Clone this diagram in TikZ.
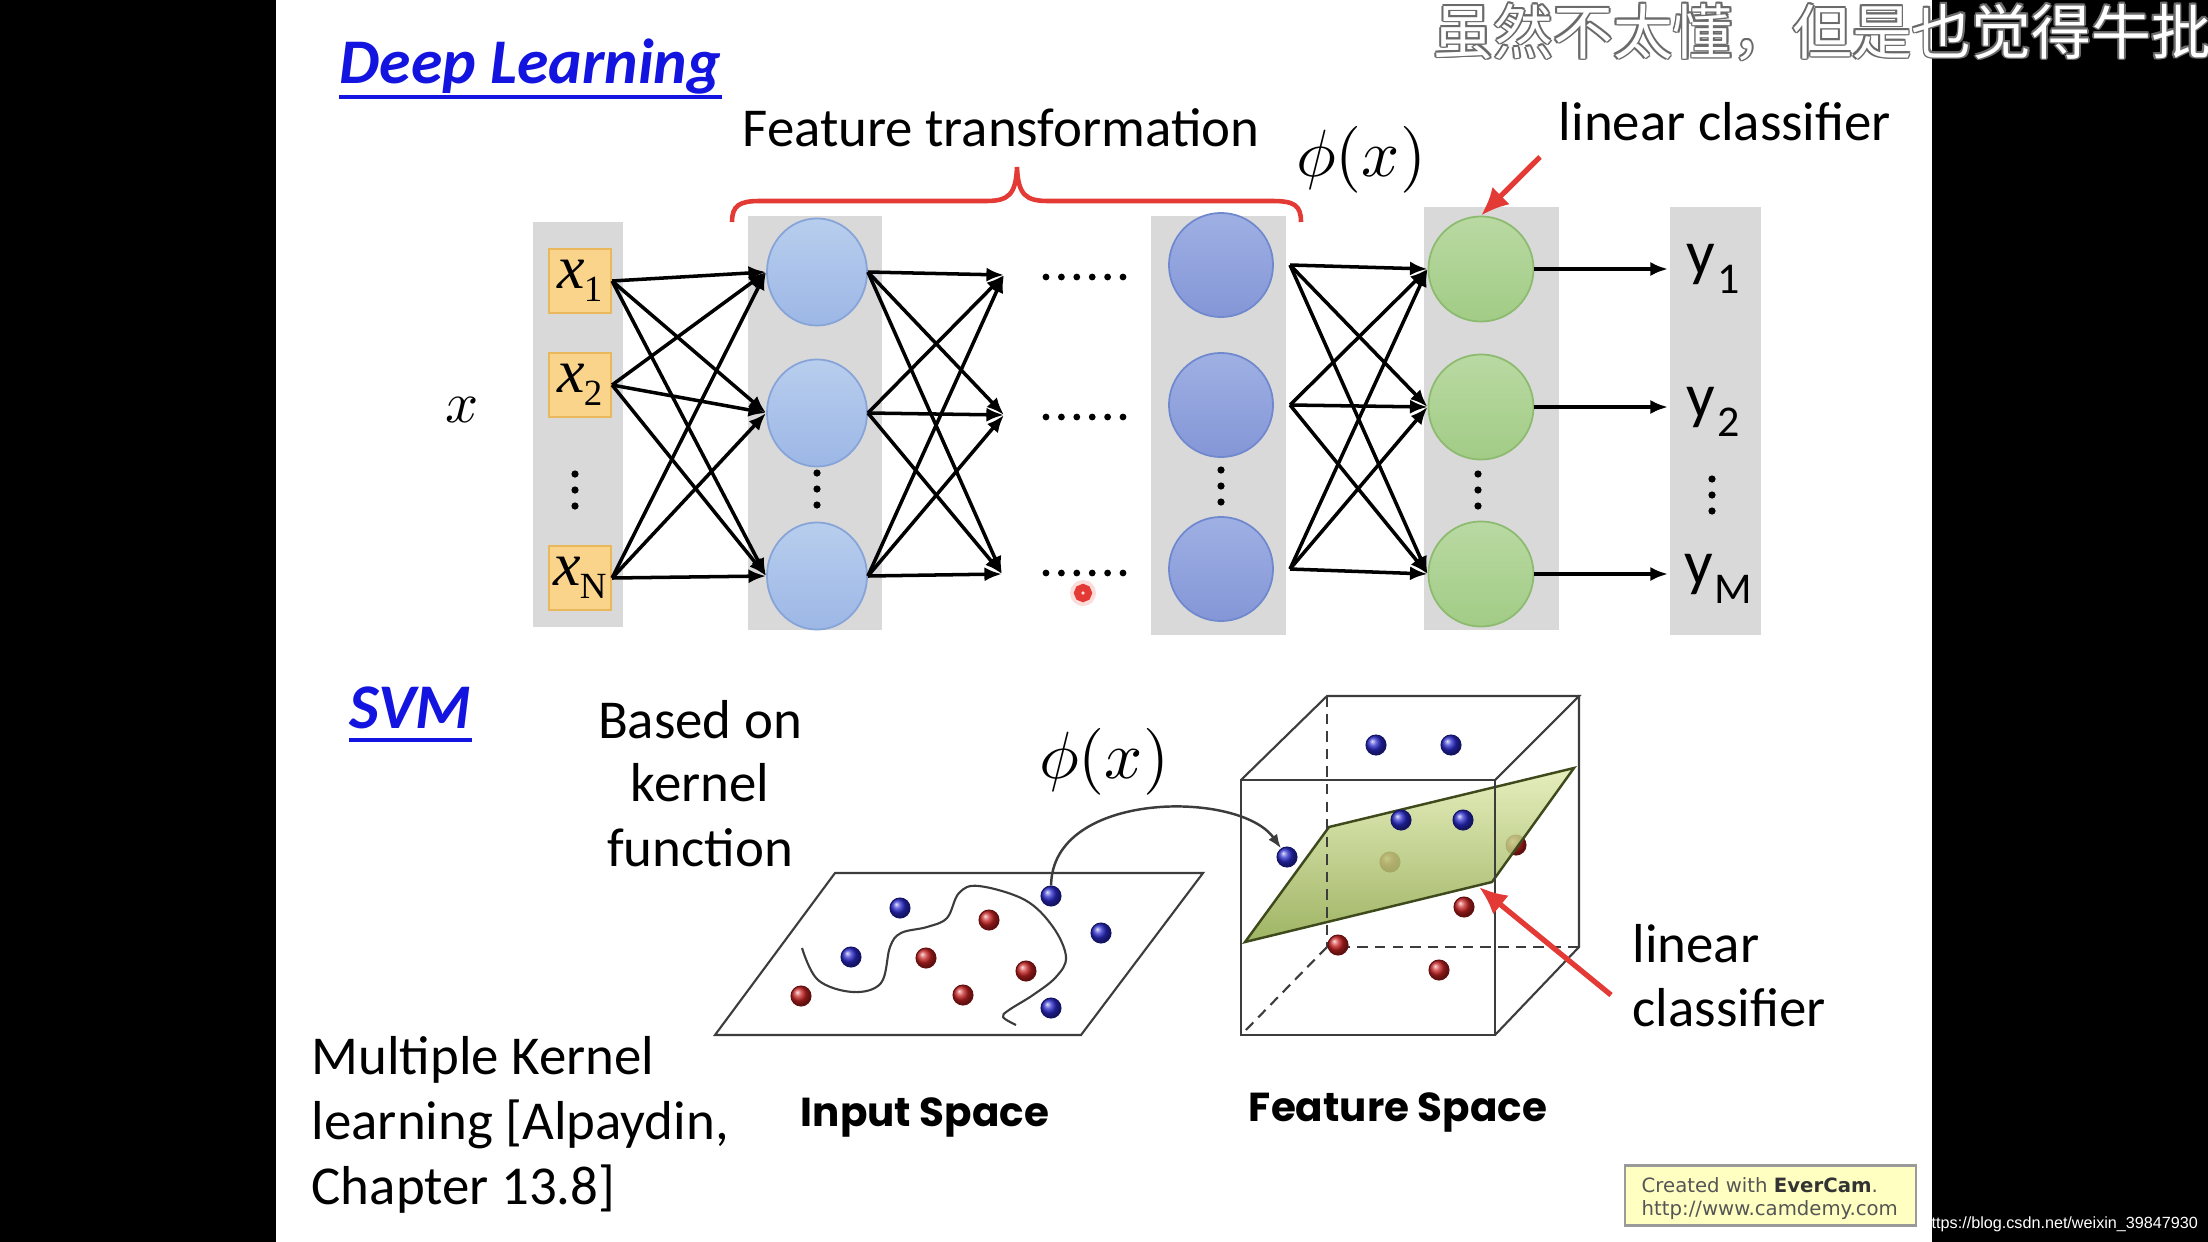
\documentclass[tikz,border=0pt]{standalone}
\usepackage{fontspec}
\setmainfont{Carlito}
\newfontfamily\cjkfont{Noto Sans CJK SC}
\newfontfamily\gothfont{Poppins}
\newfontfamily\arialfont{Liberation Sans}
\newfontfamily\verdfont{DejaVu Sans}
\newfontfamily\serfont{Liberation Serif}
\usetikzlibrary{arrows.meta,shapes.geometric}
\definecolor{colgray}{HTML}{D9D9D9}
\definecolor{yfill}{HTML}{F9D48A}
\definecolor{yedge}{HTML}{E9B85C}
\definecolor{hAtop}{HTML}{B8CEEE}
\definecolor{hAbot}{HTML}{9DB7E6}
\definecolor{hAedge}{HTML}{86A4D8}
\definecolor{hBtop}{HTML}{9FB0E4}
\definecolor{hBbot}{HTML}{8496D6}
\definecolor{hBedge}{HTML}{7088CE}
\definecolor{gtop}{HTML}{B9D9A2}
\definecolor{gbot}{HTML}{A2CC86}
\definecolor{gedge}{HTML}{8CBB70}
\definecolor{titleblue}{HTML}{1414E0}
\definecolor{accred}{HTML}{E43A35}
\definecolor{ballblue}{HTML}{2A2ACC}
\definecolor{ballred}{HTML}{C82222}
\definecolor{linegray}{HTML}{3C3C3C}
\definecolor{pllight}{HTML}{E2ECB2}
\definecolor{pldark}{HTML}{8FA84A}
\definecolor{pledge}{HTML}{3E4A1C}
\definecolor{subgray}{HTML}{6A6A6A}
\definecolor{evfill}{HTML}{FFFFC2}
\definecolor{evedge}{HTML}{9A9A9A}
\definecolor{evtext}{HTML}{555555}
\newcommand{\xlab}[1]{{\serfont\itshape x}\kern-0.3pt\raisebox{-3.7pt}{\serfont\fontsize{10.5pt}{11pt}\selectfont #1}}
\newcommand{\ysub}[1]{y\kern0.5pt\raisebox{-0.3em}{\fontsize{12.5pt}{13pt}\selectfont #1}}
\begin{document}
\begin{tikzpicture}[x=0.01cm,y=-0.01cm,
  txt/.style={inner sep=0pt, font=\fontsize{15.6pt}{18.5pt}\selectfont},
  ttl/.style={inner sep=0pt, text=titleblue, font=\fontsize{18.1pt}{20pt}\selectfont\bfseries\itshape},
  mth/.style={inner sep=0pt, font=\fontsize{10pt}{12pt}\selectfont},
  colbg/.style={rectangle, fill=colgray, draw=none, inner sep=0pt},
  xbox/.style={rectangle, fill=yfill, draw=yedge, line width=0.6pt, minimum width=0.62cm, minimum height=0.64cm, inner sep=0pt, font=\fontsize{17.6pt}{18pt}\selectfont},
  hidA/.style={ellipse, minimum width=1.0cm, minimum height=1.07cm, inner sep=0pt, top color=hAtop, bottom color=hAbot, draw=hAedge, line width=0.5pt},
  hidB/.style={circle, minimum size=1.04cm, inner sep=0pt, top color=hBtop, bottom color=hBbot, draw=hBedge, line width=0.5pt},
  outc/.style={circle, minimum size=1.05cm, inner sep=0pt, top color=gtop, bottom color=gbot, draw=gedge, line width=0.5pt},
  ylab/.style={inner sep=0pt, font=\fontsize{18pt}{20pt}\selectfont},
  arr/.style={-{Latex[length=5pt,width=4pt]}, line width=1pt, black},
  redarr/.style={-{Latex[length=8pt,width=7pt]}, line width=1.5pt, accred},
  bball/.style={circle, inner sep=0pt, minimum size=0.2cm, shading=ball, ball color=ballblue, draw=ballblue!50!black, line width=0.3pt},
  rball/.style={circle, inner sep=0pt, minimum size=0.2cm, shading=ball, ball color=ballred, draw=ballred!50!black, line width=0.3pt},
  edge3d/.style={linegray, line width=0.6pt},
  hid3d/.style={linegray, line width=0.6pt, dash pattern=on 3pt off 2pt},
  spacelab/.style={inner sep=0pt, font=\gothfont\bfseries\fontsize{11.5pt}{13pt}\selectfont},
  cjk/.style={inner sep=0pt, font=\cjkfont\fontsize{17pt}{18pt}\selectfont}
]
\useasboundingbox (0,0) rectangle (2208,1242);
\clip (0,0) rectangle (2208,1242);
\fill[black] (0,0) rectangle (2208,1242);
\fill[white] (276,0) rectangle (1932,1242);

% ---------- subtitle ----------
\foreach \dx/\dy [count=\i] in {-1.8/0,1.8/0,0/-1.8,0/1.8,-1.3/-1.3,1.3/-1.3,-1.3/1.3,1.3/1.3}
  \node[cjk, text=subgray, anchor=west] (subo\i) at (1433+\dx, 32+\dy) {虽然不太懂，但是也觉得牛批};
\node[cjk, text=white, anchor=west] (sub) at (1433, 32) {虽然不太懂，但是也觉得牛批};

% ---------- Deep learning ----------
\node[ttl, anchor=base west] (dl) at (339, 83) {Deep Learning};
\draw[titleblue, line width=1.1pt] ([yshift=-4pt]dl.base west) -- ([yshift=-4pt]dl.base east);

\node[txt, anchor=base] (ft) at (1001, 146) {Feature transformation};
\node[txt, anchor=base] (lc) at (1725, 140) {linear classifier};
\node[mth] (phitop) at (1361, 160) {\scalebox{1.9}{$\phi(x)$}};
\node[mth] (xin) at (462, 410) {\scalebox{1.65}{$x$}};

\draw[accred, line width=1.3pt] (732,222) .. controls (732,205) and (740,201) .. (760,201) -- (986,201) .. controls (1008,201) and (1016,195) .. (1017,167) .. controls (1018,195) and (1026,201) .. (1048,201) -- (1272,201) .. controls (1294,201) and (1301,205) .. (1301,222);

% columns
\node[colbg, minimum width=0.90cm, minimum height=4.05cm] (bg1) at (578, 424.5) {};
\node[colbg, minimum width=1.34cm, minimum height=4.14cm] (bg2) at (815, 423) {};
\node[colbg, minimum width=1.35cm, minimum height=4.19cm] (bg3) at (1218.5, 425.5) {};
\node[colbg, minimum width=1.35cm, minimum height=4.23cm] (bg4) at (1491.5, 418.5) {};
\node[colbg, minimum width=0.91cm, minimum height=4.28cm] (bg5) at (1715.5, 421) {};

% input boxes
\node[xbox] (x1) at (580, 281) {\xlab{1}};
\node[xbox] (x2) at (580, 385) {\xlab{2}};
\node[xbox] (xN) at (580, 578) {\xlab{N}};

% hidden 1
\node[hidA] (h1) at (817, 272) {};
\node[hidA] (h2) at (817, 413) {};
\node[hidA] (h3) at (817, 576) {};
% hidden last
\node[hidB] (k1) at (1221, 265) {};
\node[hidB] (k2) at (1221, 405) {};
\node[hidB] (k3) at (1221, 569) {};
% output
\node[outc] (g1) at (1481, 269) {};
\node[outc] (g2) at (1481, 407) {};
\node[outc] (g3) at (1481, 574) {};

% y labels
\node[ylab] (y1) at (1713, 269) {\ysub{1}};
\node[ylab] (y2) at (1713, 412) {\ysub{2}};
\node[ylab] (yM) at (1718, 579) {\ysub{M}};

% vertical dots
\foreach \cx/\cy in {575/490, 817/489, 1221/486, 1478/490, 1712/495}
  \foreach \k in {-1,0,1}
    \fill (\cx, \cy+\k*16) circle (0.036cm);
% horizontal dots
\foreach \cy in {277, 417, 573}
  \foreach \k in {0,...,5}
    \fill (1046+\k*15.4, \cy) circle (0.034cm);

% coordinates
\coordinate (d1) at (1004, 275);
\coordinate (d2) at (1004, 415);
\coordinate (d3) at (1002, 574);
\coordinate (s1) at (1290, 265);
\coordinate (s2) at (1290, 405);
\coordinate (s3) at (1290, 569);
\coordinate (t1) at (1668, 269);
\coordinate (t2) at (1668, 407);
\coordinate (t3) at (1668, 574);
\coordinate (lcarr) at (1540, 157);

% connections
\foreach \a in {x1,x2,xN}
  \foreach \b in {h1,h2,h3}
    \draw[arr] (\a.east) -- (\b.west);
\foreach \a in {h1,h2,h3}
  \foreach \b in {d1,d2,d3}
    \draw[arr] (\a.east) -- (\b);
\foreach \a in {s1,s2,s3}
  \foreach \b in {g1,g2,g3}
    \draw[arr] (\a) -- (\b.west);
\draw[arr] (g1.east) -- (t1);
\draw[arr] (g2.east) -- (t2);
\draw[arr] (g3.east) -- (t3);
\draw[redarr] (lcarr) -- (g1.north);

% cursor mark
\fill[accred!25, opacity=0.7] (1083, 593) circle (0.13cm);
\draw[accred, line width=2pt] (1083, 593) circle (0.055cm);

% ---------- SVM ----------
\node[ttl, anchor=base west] (svm) at (349, 728) {SVM};
\draw[titleblue, line width=1.1pt] ([yshift=-3.4pt]svm.base west) -- ([yshift=-3.4pt]svm.base east);

\node[txt, anchor=base] (bo1) at (700, 738) {Based on};
\node[txt, anchor=base] (bo2) at (700, 801) {kernel};
\node[txt, anchor=base] (bo3) at (700, 866) {function};

\node[txt, anchor=base west] (mk1) at (311, 1074) {Multiple Kernel};
\node[txt, anchor=base west] (mk2) at (311, 1139) {learning [Alpaydin,};
\node[txt, anchor=base west] (mk3) at (311, 1204) {Chapter 13.8]};

\node[mth] (phimid) at (1104, 762) {\scalebox{1.9}{$\phi(x)$}};

% input space plane
\draw[edge3d] (835,873) -- (1203,873) -- (1081,1035) -- (715,1035) -- cycle;
\draw[linegray, line width=0.6pt] plot[smooth, tension=0.6] coordinates {(802,948) (818,980) (853,992) (881,983) (890,947) (901,933) (927,927) (947,918) (959,893) (979,886) (1025,900) (1053,927) (1066,957) (1056,977) (1033,995) (1009,1010) (1003,1017) (1016,1025)};
\node[bball] (ib1) at (900, 908) {};
\node[bball] (ib2) at (1051, 896) {};
\node[bball] (ib3) at (1101, 933) {};
\node[bball] (ib4) at (851, 957) {};
\node[bball] (ib5) at (1051, 1008) {};
\node[rball] (ir1) at (989, 920) {};
\node[rball] (ir2) at (926, 958) {};
\node[rball] (ir3) at (1026, 971) {};
\node[rball] (ir4) at (801, 996) {};
\node[rball] (ir5) at (963, 995) {};

% cube
\coordinate (FTL) at (1241,780);
\coordinate (FTR) at (1495,780);
\coordinate (FBR) at (1495,1035);
\coordinate (FBL) at (1241,1035);
\coordinate (BTL) at (1327,696);
\coordinate (BTR) at (1579,696);
\coordinate (BBR) at (1579,947);
\coordinate (BBL) at (1327,947);

\node[rball] (fr1) at (1390, 862) {};
\node[rball] (fr2) at (1516, 845) {};

\shade[top color=pllight, bottom color=pldark, fill opacity=0.85, draw=pledge, line width=0.7pt]
  (1245,942) -- (1329,827) -- (1574,768) -- (1492,882) -- cycle;

\draw[hid3d] (BTL) -- (BBL) -- (BBR);
\draw[hid3d] (BBL) -- (FBL);
\draw[edge3d] (FTL) -- (FTR) -- (FBR) -- (FBL) -- cycle;
\draw[edge3d] (FTL) -- (BTL) -- (BTR) -- (FTR);
\draw[edge3d] (BTR) -- (BBR) -- (FBR);

\node[bball] (fb1) at (1376, 745) {};
\node[bball] (fb2) at (1451, 745) {};
\node[bball] (fb3) at (1401, 820) {};
\node[bball] (fb4) at (1463, 820) {};
\node[bball] (fb5) at (1287, 857) {};
\node[rball] (fr3) at (1464, 907) {};
\node[rball] (fr4) at (1338, 945) {};
\node[rball] (fr5) at (1439, 970) {};

\draw[linegray, line width=0.7pt, -{Latex[length=4pt,width=3pt]}] (ib2) .. controls (1052,790) and (1240,790) .. (fb5);

\coordinate (lcb) at (1611, 995);
\coordinate (plc) at (1479, 887);
\draw[redarr] (lcb) -- (plc);

\node[txt, anchor=base west] (lcb1) at (1632, 962) {linear};
\node[txt, anchor=base west] (lcb2) at (1632, 1026) {classifier};

\node[spacelab, anchor=base] (ins) at (925, 1126) {Input Space};
\node[spacelab, anchor=base] (fes) at (1398, 1121) {Feature Space};

% ---------- watermarks ----------
\node[rectangle, fill=evfill, draw=evedge, line width=0.6pt, minimum width=2.9cm, minimum height=0.6cm, inner sep=0pt] (ev) at (1770.5, 1195.5) {};
\node[inner sep=0pt, anchor=base west, text=evtext, font=\verdfont\fontsize{5.6pt}{6.5pt}\selectfont] (ev1) at (1641, 1192) {Created with \textbf{\color{black!80}EverCam}.};
\node[inner sep=0pt, anchor=base west, text=evtext, font=\verdfont\fontsize{5.6pt}{6.5pt}\selectfont] (ev2) at (1641, 1215) {http://www.camdemy.com};
\node[inner sep=0pt, anchor=base west, text=white, font=\arialfont\fontsize{4.6pt}{5pt}\selectfont] (csdn) at (1922, 1228) {https://blog.csdn.net/weixin\_39847930};
\end{tikzpicture}
\end{document}
